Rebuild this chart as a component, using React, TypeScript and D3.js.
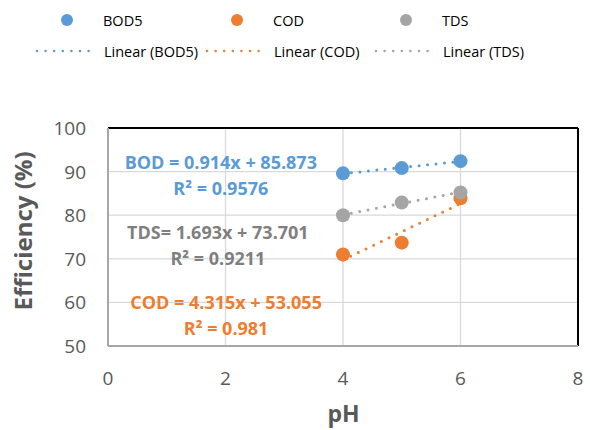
import * as d3 from "d3";
import React from "react";

type Pt = { x: number; y: number };

const phValues = [4, 5, 6];
const bod5 = [89.6, 90.8, 92.4];
const cod = [71.0, 73.7, 83.9];
const tds = [80.0, 82.9, 85.2];

const xTicks = [0, 2, 4, 6, 8];
const yTicks = [50, 60, 70, 80, 90, 100];

const seriesNames = ["BOD5", "COD", "TDS"];
const seriesColors = ["#5B9BD5", "#ED7D31", "#A5A5A5"];

const equationLines = [
  ["BOD = 0.914x + 85.873", "R² = 0.9576"],
  ["TDS= 1.693x + 73.701", "R² = 0.9211"],
  ["COD = 4.315x + 53.055", "R² = 0.981"],
];
const equationColors = ["#5B9BD5", "#7F7F7F", "#ED7D31"];
// where each label block sits, in data coordinates (x centre, y of first baseline)
const equationAnchors = [
  { x: 1.92, y: 90.6 },
  { x: 1.87, y: 74.5 },
  { x: 2.01, y: 58.5 },
];

const W = 590;
const H = 430;
const margin = { left: 108, right: 12, top: 128, bottom: 84 };
const FONT = "'Open Sans', 'Liberation Sans', sans-serif";
const AXIS_GREY = "#595959";

function fit(pts: Pt[]) {
  const mx = d3.mean(pts, (p) => p.x) ?? 0;
  const my = d3.mean(pts, (p) => p.y) ?? 0;
  const sxy = d3.sum(pts, (p) => (p.x - mx) * (p.y - my));
  const sxx = d3.sum(pts, (p) => (p.x - mx) ** 2);
  const slope = sxy / sxx;
  return { slope, intercept: my - slope * mx };
}

const App: React.FC = () => {
  const x = d3
    .scaleLinear()
    .domain([0, 8])
    .range([margin.left, W - margin.right]);
  const y = d3
    .scaleLinear()
    .domain([50, 100])
    .range([H - margin.bottom, margin.top]);

  const series = [bod5, cod, tds].map((vals, i) => ({
    name: seriesNames[i],
    color: seriesColors[i],
    points: vals.map((v, j) => ({ x: phValues[j], y: v })),
  }));

  const line = d3
    .line<Pt>()
    .x((d) => x(d.x))
    .y((d) => y(d.y));

  const x0 = x.range()[0];
  const x1 = x.range()[1];
  const y0 = y.range()[0];
  const y1 = y.range()[1];

  const legendX = [67, 237, 406];

  return (
    <svg width={W} height={H} style={{ position: "absolute", left: 0, top: 0 }}>
      <rect width={W} height={H} fill="#fff" />

      {/* legend */}
      {series.map((s, i) => (
        <g key={s.name} fontFamily={FONT} fontSize={14.5} fill="#000">
          <circle cx={legendX[i]} cy={20} r={6} fill={s.color} />
          <text x={legendX[i] + 36} y={25.5}>
            {s.name}
          </text>
          <line
            x1={legendX[i] - 30}
            x2={legendX[i] + 30}
            y1={51}
            y2={51}
            stroke={s.color}
            strokeWidth={2.5}
            strokeDasharray="0 8.6"
            strokeLinecap="round"
          />
          <text x={legendX[i] + 37} y={56.5}>
            {`Linear (${s.name})`}
          </text>
        </g>
      ))}

      {/* grid */}
      {xTicks.map((t) => (
        <line key={"gx" + t} x1={x(t)} x2={x(t)} y1={y1} y2={y0} stroke="#D9D9D9" strokeWidth={1.3} />
      ))}
      {yTicks.map((t) => (
        <line key={"gy" + t} x1={x0} x2={x1} y1={y(t)} y2={y(t)} stroke="#D9D9D9" strokeWidth={1.3} />
      ))}

      {/* frame */}
      <line x1={x0} x2={x1} y1={y1} y2={y1} stroke="#000" strokeWidth={2} />
      <line x1={x1} x2={x1} y1={y1} y2={y0} stroke="#000" strokeWidth={2} />
      <line x1={x0} x2={x0} y1={y1} y2={y0} stroke="#A6A6A6" strokeWidth={2} />
      <line x1={x0} x2={x1} y1={y0} y2={y0} stroke="#A6A6A6" strokeWidth={2} />

      {/* ticks */}
      <g fontFamily={FONT} fontSize={19} fill={AXIS_GREY}>
        {xTicks.map((t) => (
          <text key={"tx" + t} x={x(t)} y={385} textAnchor="middle">
            {t}
          </text>
        ))}
        {yTicks.map((t) => (
          <text key={"ty" + t} x={86} y={y(t) + 7} textAnchor="end">
            {t}
          </text>
        ))}
      </g>

      {/* axis titles */}
      <text
        x={343.5}
        y={422}
        textAnchor="middle"
        fontFamily={FONT}
        fontWeight="bold"
        fontSize={23}
        fill={AXIS_GREY}
      >
        pH
      </text>
      <text
        transform={`translate(32,231) rotate(-90)`}
        textAnchor="middle"
        fontFamily={FONT}
        fontWeight="bold"
        fontSize={24}
        fill={AXIS_GREY}
      >
        Efficiency (%)
      </text>

      {/* trend lines */}
      {series.map((s) => {
        const f = fit(s.points);
        const ext = d3.extent(s.points, (p) => p.x) as [number, number];
        const ends = ext.map((px) => ({ x: px, y: f.slope * px + f.intercept }));
        return (
          <path
            key={"tr" + s.name}
            d={line(ends) ?? ""}
            fill="none"
            stroke={s.color}
            strokeWidth={3}
            strokeDasharray="0 8.5"
            strokeLinecap="round"
          />
        );
      })}

      {/* markers */}
      {series.map((s) => (
        <g key={"m" + s.name} fill={s.color}>
          {s.points.map((p) => (
            <circle key={p.x} cx={x(p.x)} cy={y(p.y)} r={7} />
          ))}
        </g>
      ))}

      {/* equations */}
      {equationLines.map((lines, i) => (
        <text
          key={"eq" + i}
          fontFamily={FONT}
          fontWeight="bold"
          fontSize={18}
          fill={equationColors[i]}
          textAnchor="middle"
        >
          {lines.map((l, j) => (
            <tspan key={j} x={x(equationAnchors[i].x)} y={y(equationAnchors[i].y) + j * 26}>
              {l}
            </tspan>
          ))}
        </text>
      ))}
    </svg>
  );
};

export default App;
